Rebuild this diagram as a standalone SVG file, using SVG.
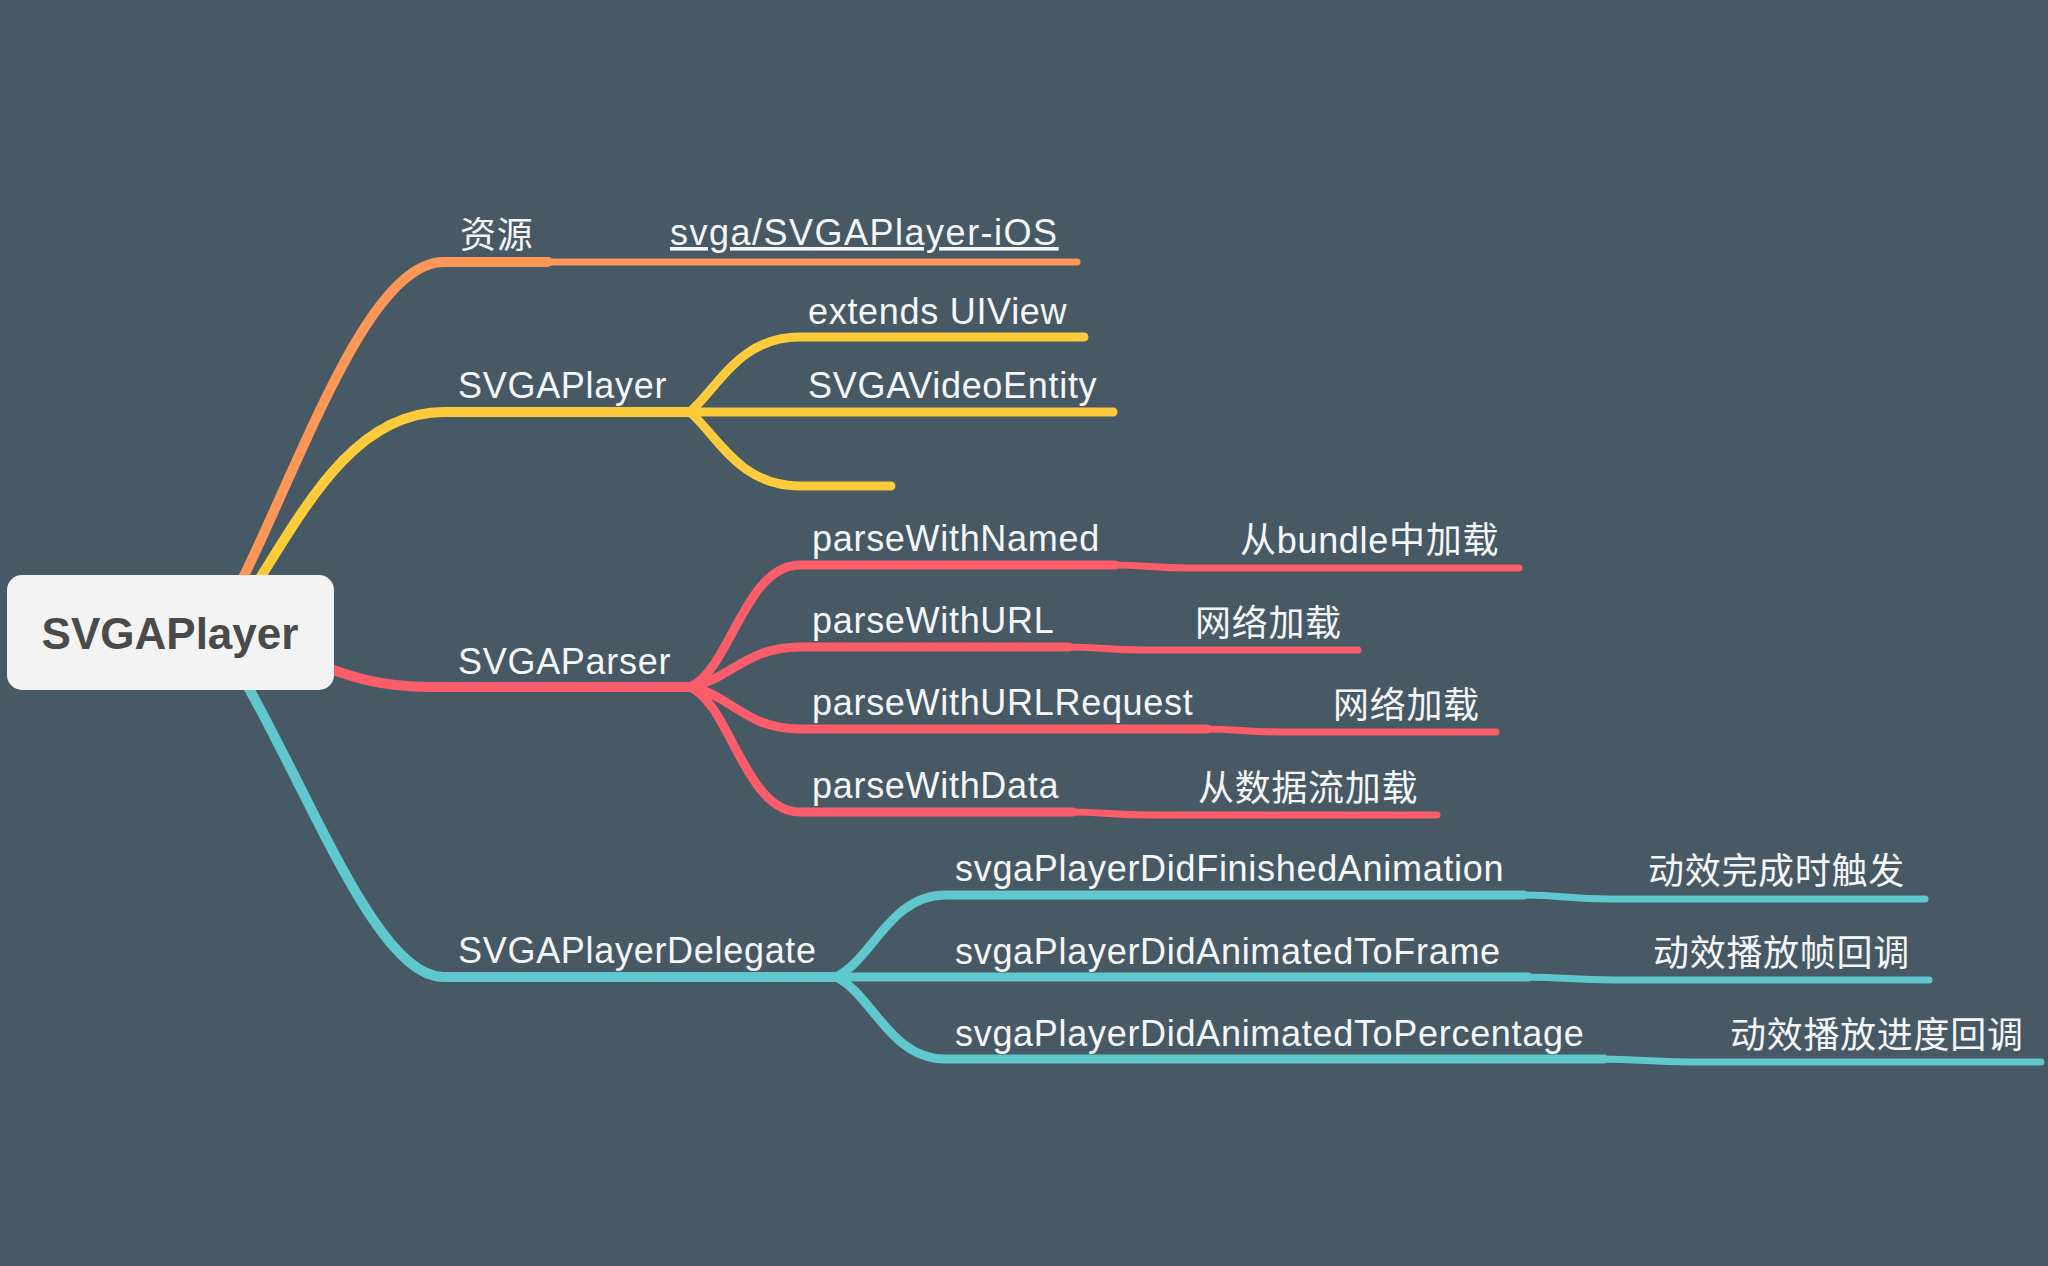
<svg xmlns="http://www.w3.org/2000/svg" width="2048" height="1266" viewBox="0 0 2048 1266">
<style>
.bg{fill:#475965}
.ln{fill:none;stroke-linecap:round;stroke-linejoin:round}
.main{stroke-width:10}
.child{stroke-width:9}
.thin{stroke-width:7}
.or{stroke:#fd9656}
.ye{stroke:#fecb3a}
.rd{stroke:#fb5d6a}
.cy{stroke:#5ec8cc}
.lbl{font-family:"Liberation Sans","Noto Sans CJK SC",sans-serif;font-size:36px;fill:#f4f6f7;letter-spacing:0.7px}
.link{letter-spacing:1.5px}
.root{font-family:"Liberation Sans","Noto Sans CJK SC",sans-serif;font-size:44px;font-weight:bold;fill:#4a4a4a}
</style>
<rect class="bg" x="0" y="0" width="2048" height="1266"/>
<g id="connectors">
  <path class="ln main or" d="M 215 632 C 290 500, 360 262, 444 262 L 548 262"/>
  <path class="ln thin or" d="M 548 262 L 1077 262"/>
  <path class="ln main ye" d="M 225 632 C 290 540, 340 412, 444 412 L 690 412"/>
  <path class="ln main rd" d="M 290 655 C 340 672, 370 687, 430 687 L 690 687"/>
  <path class="ln main cy" d="M 215 632 C 300 760, 370 977, 444 977 L 836 977"/>
  <path class="ln child ye" d="M 690 412 C 720 385, 740 337, 800 337 L 1084 337"/>
  <path class="ln child ye" d="M 690 412 L 1113 412"/>
  <path class="ln child ye" d="M 690 412 C 720 439, 740 486, 800 486 L 891 486"/>
  <path class="ln child rd" d="M 690 687 C 730 670, 745 565, 800 565 L 1115 565"/>
  <path class="ln thin rd" d="M 1110 565 C 1150 565, 1150 568, 1190 568 L 1519 568"/>
  <path class="ln child rd" d="M 690 687 C 730 680, 745 647, 800 647 L 1069 647"/>
  <path class="ln thin rd" d="M 1064 647 C 1104 647, 1104 650, 1144 650 L 1358 650"/>
  <path class="ln child rd" d="M 690 687 C 730 694, 745 729, 800 729 L 1207 729"/>
  <path class="ln thin rd" d="M 1202 729 C 1242 729, 1242 732, 1282 732 L 1496 732"/>
  <path class="ln child rd" d="M 690 687 C 730 704, 745 812, 800 812 L 1073 812"/>
  <path class="ln thin rd" d="M 1068 812 C 1108 812, 1108 815, 1148 815 L 1437 815"/>
  <path class="ln child cy" d="M 836 977 C 872 960, 890 895, 945 895 L 1524 895"/>
  <path class="ln thin cy" d="M 1519 895 C 1565 895, 1565 899, 1610 899 L 1925 899"/>
  <path class="ln child cy" d="M 836 977 L 1528 977"/>
  <path class="ln thin cy" d="M 1523 977 C 1569 977, 1569 980, 1614 980 L 1929 980"/>
  <path class="ln child cy" d="M 836 977 C 872 994, 890 1059, 945 1059 L 1604 1059"/>
  <path class="ln thin cy" d="M 1599 1059 C 1645 1059, 1645 1062, 1690 1062 L 2041 1062"/>
</g>
<g id="root">
  <rect x="7" y="575" width="327" height="115" rx="15" fill="#f3f3f3"/>
  <text class="root" x="170" y="649" text-anchor="middle">SVGAPlayer</text>
</g>
<g id="node-resource"><text class="lbl" x="460" y="248">资源</text></g>
<g id="node-link"><text class="lbl link" x="670" y="245" text-decoration="underline">svga/SVGAPlayer-iOS</text></g>
<g id="node-svgaplayer"><text class="lbl" x="458" y="398">SVGAPlayer</text></g>
<g id="node-extends"><text class="lbl" x="808" y="324">extends UIView</text></g>
<g id="node-videoentity"><text class="lbl" x="808" y="398">SVGAVideoEntity</text></g>
<g id="node-svgaparser"><text class="lbl" x="458" y="674">SVGAParser</text></g>
<g id="node-named"><text class="lbl" x="812" y="551">parseWithNamed</text></g>
<g id="node-named-note"><text class="lbl" x="1240" y="553">从bundle中加载</text></g>
<g id="node-url"><text class="lbl" x="812" y="633">parseWithURL</text></g>
<g id="node-url-note"><text class="lbl" x="1195" y="636">网络加载</text></g>
<g id="node-urlrequest"><text class="lbl" x="812" y="715">parseWithURLRequest</text></g>
<g id="node-urlrequest-note"><text class="lbl" x="1333" y="718">网络加载</text></g>
<g id="node-data"><text class="lbl" x="812" y="798">parseWithData</text></g>
<g id="node-data-note"><text class="lbl" x="1198" y="801">从数据流加载</text></g>
<g id="node-delegate"><text class="lbl" x="458" y="963">SVGAPlayerDelegate</text></g>
<g id="node-finished"><text class="lbl" x="955" y="881">svgaPlayerDidFinishedAnimation</text></g>
<g id="node-finished-note"><text class="lbl" x="1648" y="884">动效完成时触发</text></g>
<g id="node-frame"><text class="lbl" x="955" y="964">svgaPlayerDidAnimatedToFrame</text></g>
<g id="node-frame-note"><text class="lbl" x="1653" y="966">动效播放帧回调</text></g>
<g id="node-percentage"><text class="lbl" x="955" y="1046">svgaPlayerDidAnimatedToPercentage</text></g>
<g id="node-percentage-note"><text class="lbl" x="1730" y="1048">动效播放进度回调</text></g>
</svg>
